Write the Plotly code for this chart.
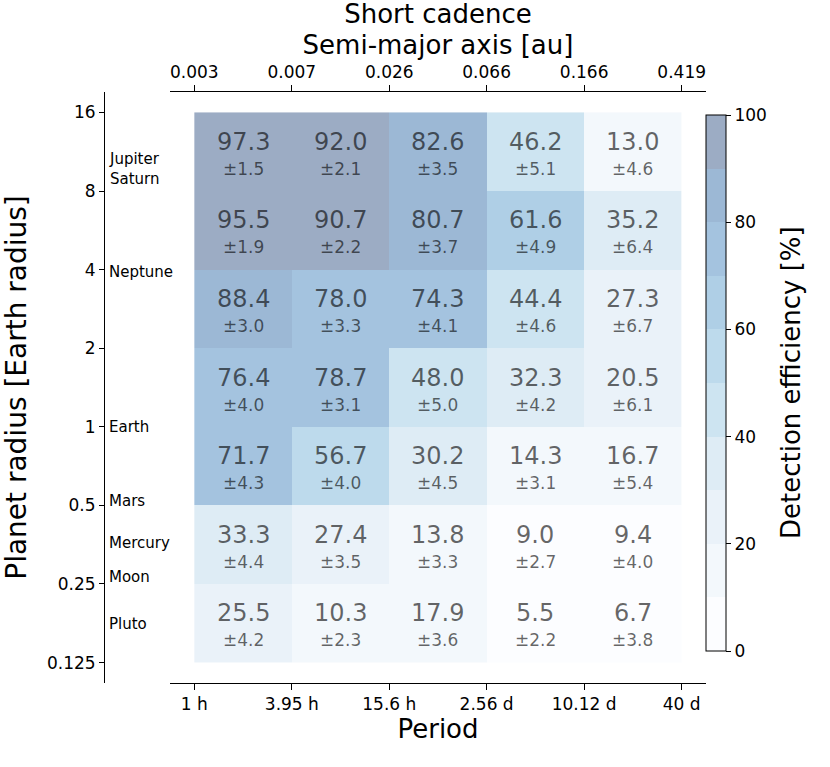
import numpy as np
import plotly.graph_objects as go

# bin edges
period_h = [1, 3.95, 15.6, 61.44, 242.88, 960]
period_labels = ["1 h", "3.95 h", "15.6 h", "2.56 d", "10.12 d", "40 d"]
sma_labels = ["0.003", "0.007", "0.026", "0.066", "0.166", "0.419"]
radius_edges = [0.125, 0.25, 0.5, 1, 2, 4, 8, 16]
radius_labels = ["0.125", "0.25", "0.5", "1", "2", "4", "8", "16"]

# detection efficiency [%], rows from top (8-16) to bottom (0.125-0.25)
efficiency = [
    [97.3, 92.0, 82.6, 46.2, 13.0],
    [95.5, 90.7, 80.7, 61.6, 35.2],
    [88.4, 78.0, 74.3, 44.4, 27.3],
    [76.4, 78.7, 48.0, 32.3, 20.5],
    [71.7, 56.7, 30.2, 14.3, 16.7],
    [33.3, 27.4, 13.8, 9.0, 9.4],
    [25.5, 10.3, 17.9, 5.5, 6.7],
]
uncertainty = [
    [1.5, 2.1, 3.5, 5.1, 4.6],
    [1.9, 2.2, 3.7, 4.9, 6.4],
    [3.0, 3.3, 4.1, 4.6, 6.7],
    [4.0, 3.1, 5.0, 4.2, 6.1],
    [4.3, 4.0, 4.5, 3.1, 5.4],
    [4.4, 3.5, 3.3, 2.7, 4.0],
    [4.2, 2.3, 3.6, 2.2, 3.8],
]

# solar system reference labels (radius where the label sits)
planet_names = ["Jupiter<br>Saturn", "Neptune", "Earth", "Mars", "Mercury", "Moon", "Pluto"]
planet_radii = [9.7, 3.9, 1.0, 0.52, 0.36, 0.267, 0.175]

# 10 discrete steps of Blues with alpha 0.4 on white
level_colors = ["#fcfdff", "#f3f8fc", "#eaf2f9", "#deecf5", "#cde4f1",
                "#bddaec", "#afcfe6", "#a4c3df", "#9cb8d5", "#9cacc4"]

x_edges = np.log10(period_h)
y_edges = np.log2(radius_edges)
z = efficiency[::-1]
z_err = uncertainty[::-1]

scale = []
n = len(level_colors)
for i, c in enumerate(level_colors):
    scale.append([i / n, c])
    scale.append([(i + 1) / n, c])

ml, mt, plot_w, plot_h = 104, 92, 602, 591

fig = go.Figure()
fig.add_trace(go.Heatmap(
    x=x_edges, y=y_edges, z=z,
    zmin=0, zmax=100,
    colorscale=scale,
    hoverinfo="skip",
    colorbar=dict(
        x=1.0, xanchor="left", xpad=0,
        y=(683 - 115) / plot_h, yanchor="top", ypad=0,
        len=536, lenmode="pixels", thickness=20,
        outlinecolor="black", outlinewidth=1,
        tickvals=[0, 20, 40, 60, 80, 100],
        ticks="outside", ticklen=5, tickcolor="black",
        tickfont=dict(size=17, color="black"),
    ),
))
# dummy trace so the top axis gets drawn
fig.add_trace(go.Scatter(
    x=x_edges, y=[y_edges[0]] * len(x_edges), xaxis="x2", mode="markers",
    marker=dict(opacity=0), hoverinfo="skip", showlegend=False,
))

annotations = []
for i in range(len(z)):
    yc = (y_edges[i] + y_edges[i + 1]) / 2
    for j in range(len(z[i])):
        xc = (x_edges[j] + x_edges[j + 1]) / 2
        annotations.append(dict(
            x=xc, y=yc, xref="x", yref="y", text=f"{z[i][j]:.1f}",
            showarrow=False, yshift=10,
            font=dict(size=24, color="rgba(0,0,0,0.6)")))
        annotations.append(dict(
            x=xc, y=yc, xref="x", yref="y", text=f"±{z_err[i][j]:.1f}",
            showarrow=False, yshift=-17,
            font=dict(size=17, color="rgba(0,0,0,0.6)")))

for name, r in zip(planet_names, planet_radii):
    annotations.append(dict(
        x=0, y=np.log2(r), xref="paper", yref="y", text=name, align="left",
        xanchor="left", xshift=3, showarrow=False,
        font=dict(size=15, color="black")))

# colorbar label
annotations.append(dict(
    x=(791 - ml) / plot_w, y=(683 - 383) / plot_h, xref="paper", yref="paper",
    text="Detection efficiency [%]", textangle=-90, showarrow=False,
    xanchor="center", yanchor="middle", font=dict(size=26, color="black")))

x_range = [-0.149, 3.131]
axis_style = dict(showline=True, linecolor="black", linewidth=1, ticks="outside",
                  tickcolor="black", tickwidth=1, showgrid=False, zeroline=False,
                  tickfont=dict(size=17, color="black"))

fig.update_layout(
    width=830, height=767,
    margin=dict(l=ml, r=830 - ml - plot_w, t=mt, b=767 - mt - plot_h),
    plot_bgcolor="white", paper_bgcolor="white",
    font=dict(family="DejaVu Sans", color="black"),
    title=dict(text="Short cadence", x=(170 + 706) / 2 / 830, xanchor="center",
               y=1 - 14 / 767, yanchor="middle", yref="container",
               font=dict(size=26, color="black")),
    xaxis=dict(domain=[(170 - ml) / plot_w, 1], range=x_range, anchor="y",
               tickvals=x_edges, ticktext=period_labels, ticklen=6,
               title=dict(text="Period", font=dict(size=26), standoff=6),
               **axis_style),
    xaxis2=dict(domain=[(170 - ml) / plot_w, 1], range=x_range, overlaying="x",
                side="top", anchor="y", tickvals=x_edges, ticktext=sma_labels,
                ticklen=6,
                title=dict(text="Semi-major axis [au]", font=dict(size=26), standoff=0),
                **axis_style),
    yaxis=dict(range=[-3.26, 4.26], anchor="free", position=0,
               tickvals=y_edges, ticktext=radius_labels, ticklen=5,
               title=dict(text="Planet radius [Earth radius]", font=dict(size=28), standoff=15),
               **axis_style),
    annotations=annotations,
)

# drop the page's default body margin so the figure sits at the window corner
fig.write_html("out.html", config={"displayModeBar": False},
               post_script="document.body.style.margin = '0';")
